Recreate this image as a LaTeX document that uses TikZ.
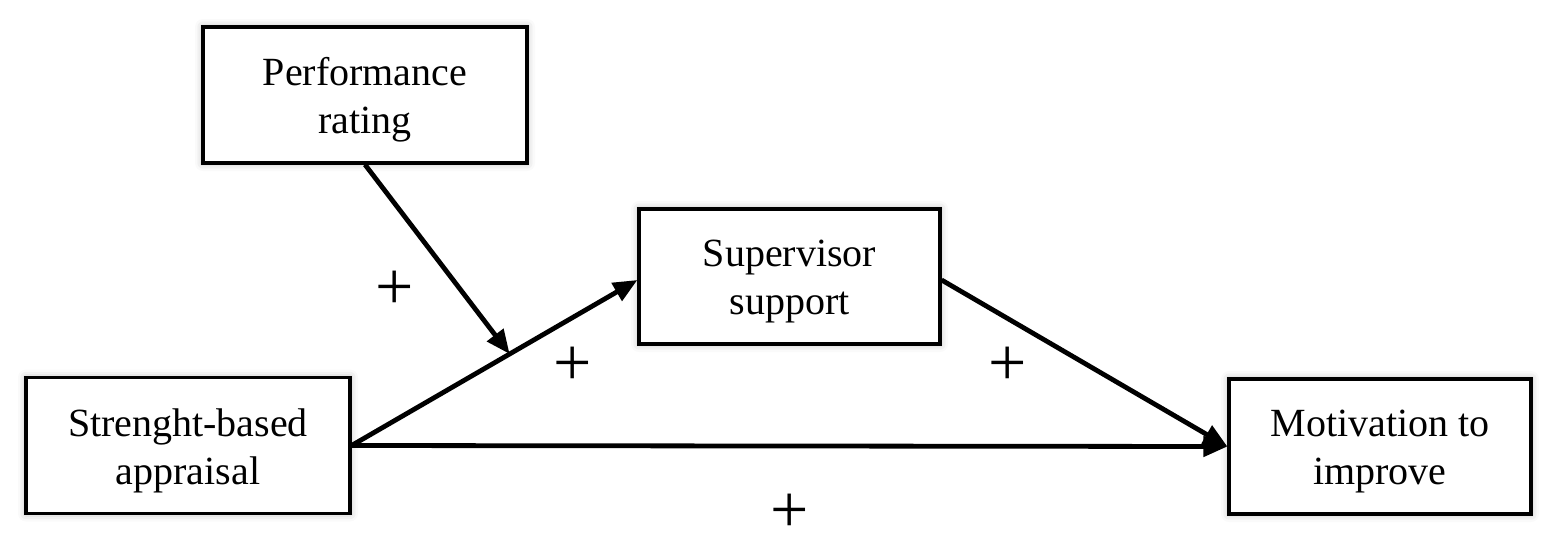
\documentclass[tikz,border=0pt]{standalone}
\usepackage{fontspec}
\setmainfont{Liberation Serif}
\usetikzlibrary{arrows.meta,calc,shadows.blur}
\begin{document}
\begin{tikzpicture}[x=0.5pt,y=-0.5pt,
  box/.style={draw=black,line width=1.6pt,fill=white,minimum width=162pt,minimum height=68pt,
    inner sep=0pt,
    blur shadow={shadow xshift=0pt,shadow yshift=0pt,shadow blur radius=4pt,shadow opacity=30}},
  lab/.style={align=center,font=\fontsize{20}{24}\selectfont,inner sep=0pt,yshift=-2.5pt},
  conn/.style={line width=2.4pt,-{Triangle[length=12pt,width=10pt]}},
  sign/.style={font=\fontsize{34}{34}\selectfont,inner sep=0pt}]
\useasboundingbox (0,0) rectangle (1559,542);
\node[box,label={[lab]center:{Performance\\rating}}] (perf) at (365,95) {};
\node[box,minimum width=150.5pt,minimum height=67.5pt,label={[lab]center:{Supervisor\\support}}] (sup) at (789.5,276.5) {};
\node[box,label={[lab]center:{Strenght-based\\appraisal}}] (sba) at (188,445.5) {};
\node[box,minimum width=151pt,minimum height=67.5pt,label={[lab]center:{Motivation to\\improve}}] (mot) at (1380,446.5) {};
\coordinate (mid) at ($(sba.east)!0.553!([yshift=-1.75pt]sup.west)$);
\draw[conn] (sba.east) -- ([yshift=-1.75pt]sup.west);
\draw[conn] (sba.east) -- (mot.west);
\draw[conn] ([yshift=-1.75pt]sup.east) -- (mot.west);
\draw[conn] (perf.south) -- (mid);
\node[sign] (p1) at (395,290) {+};
\node[sign] (p2) at (573,366) {+};
\node[sign] (p3) at (1008,366) {+};
\node[sign] (p4) at (790,513) {+};
\end{tikzpicture}
\end{document}
